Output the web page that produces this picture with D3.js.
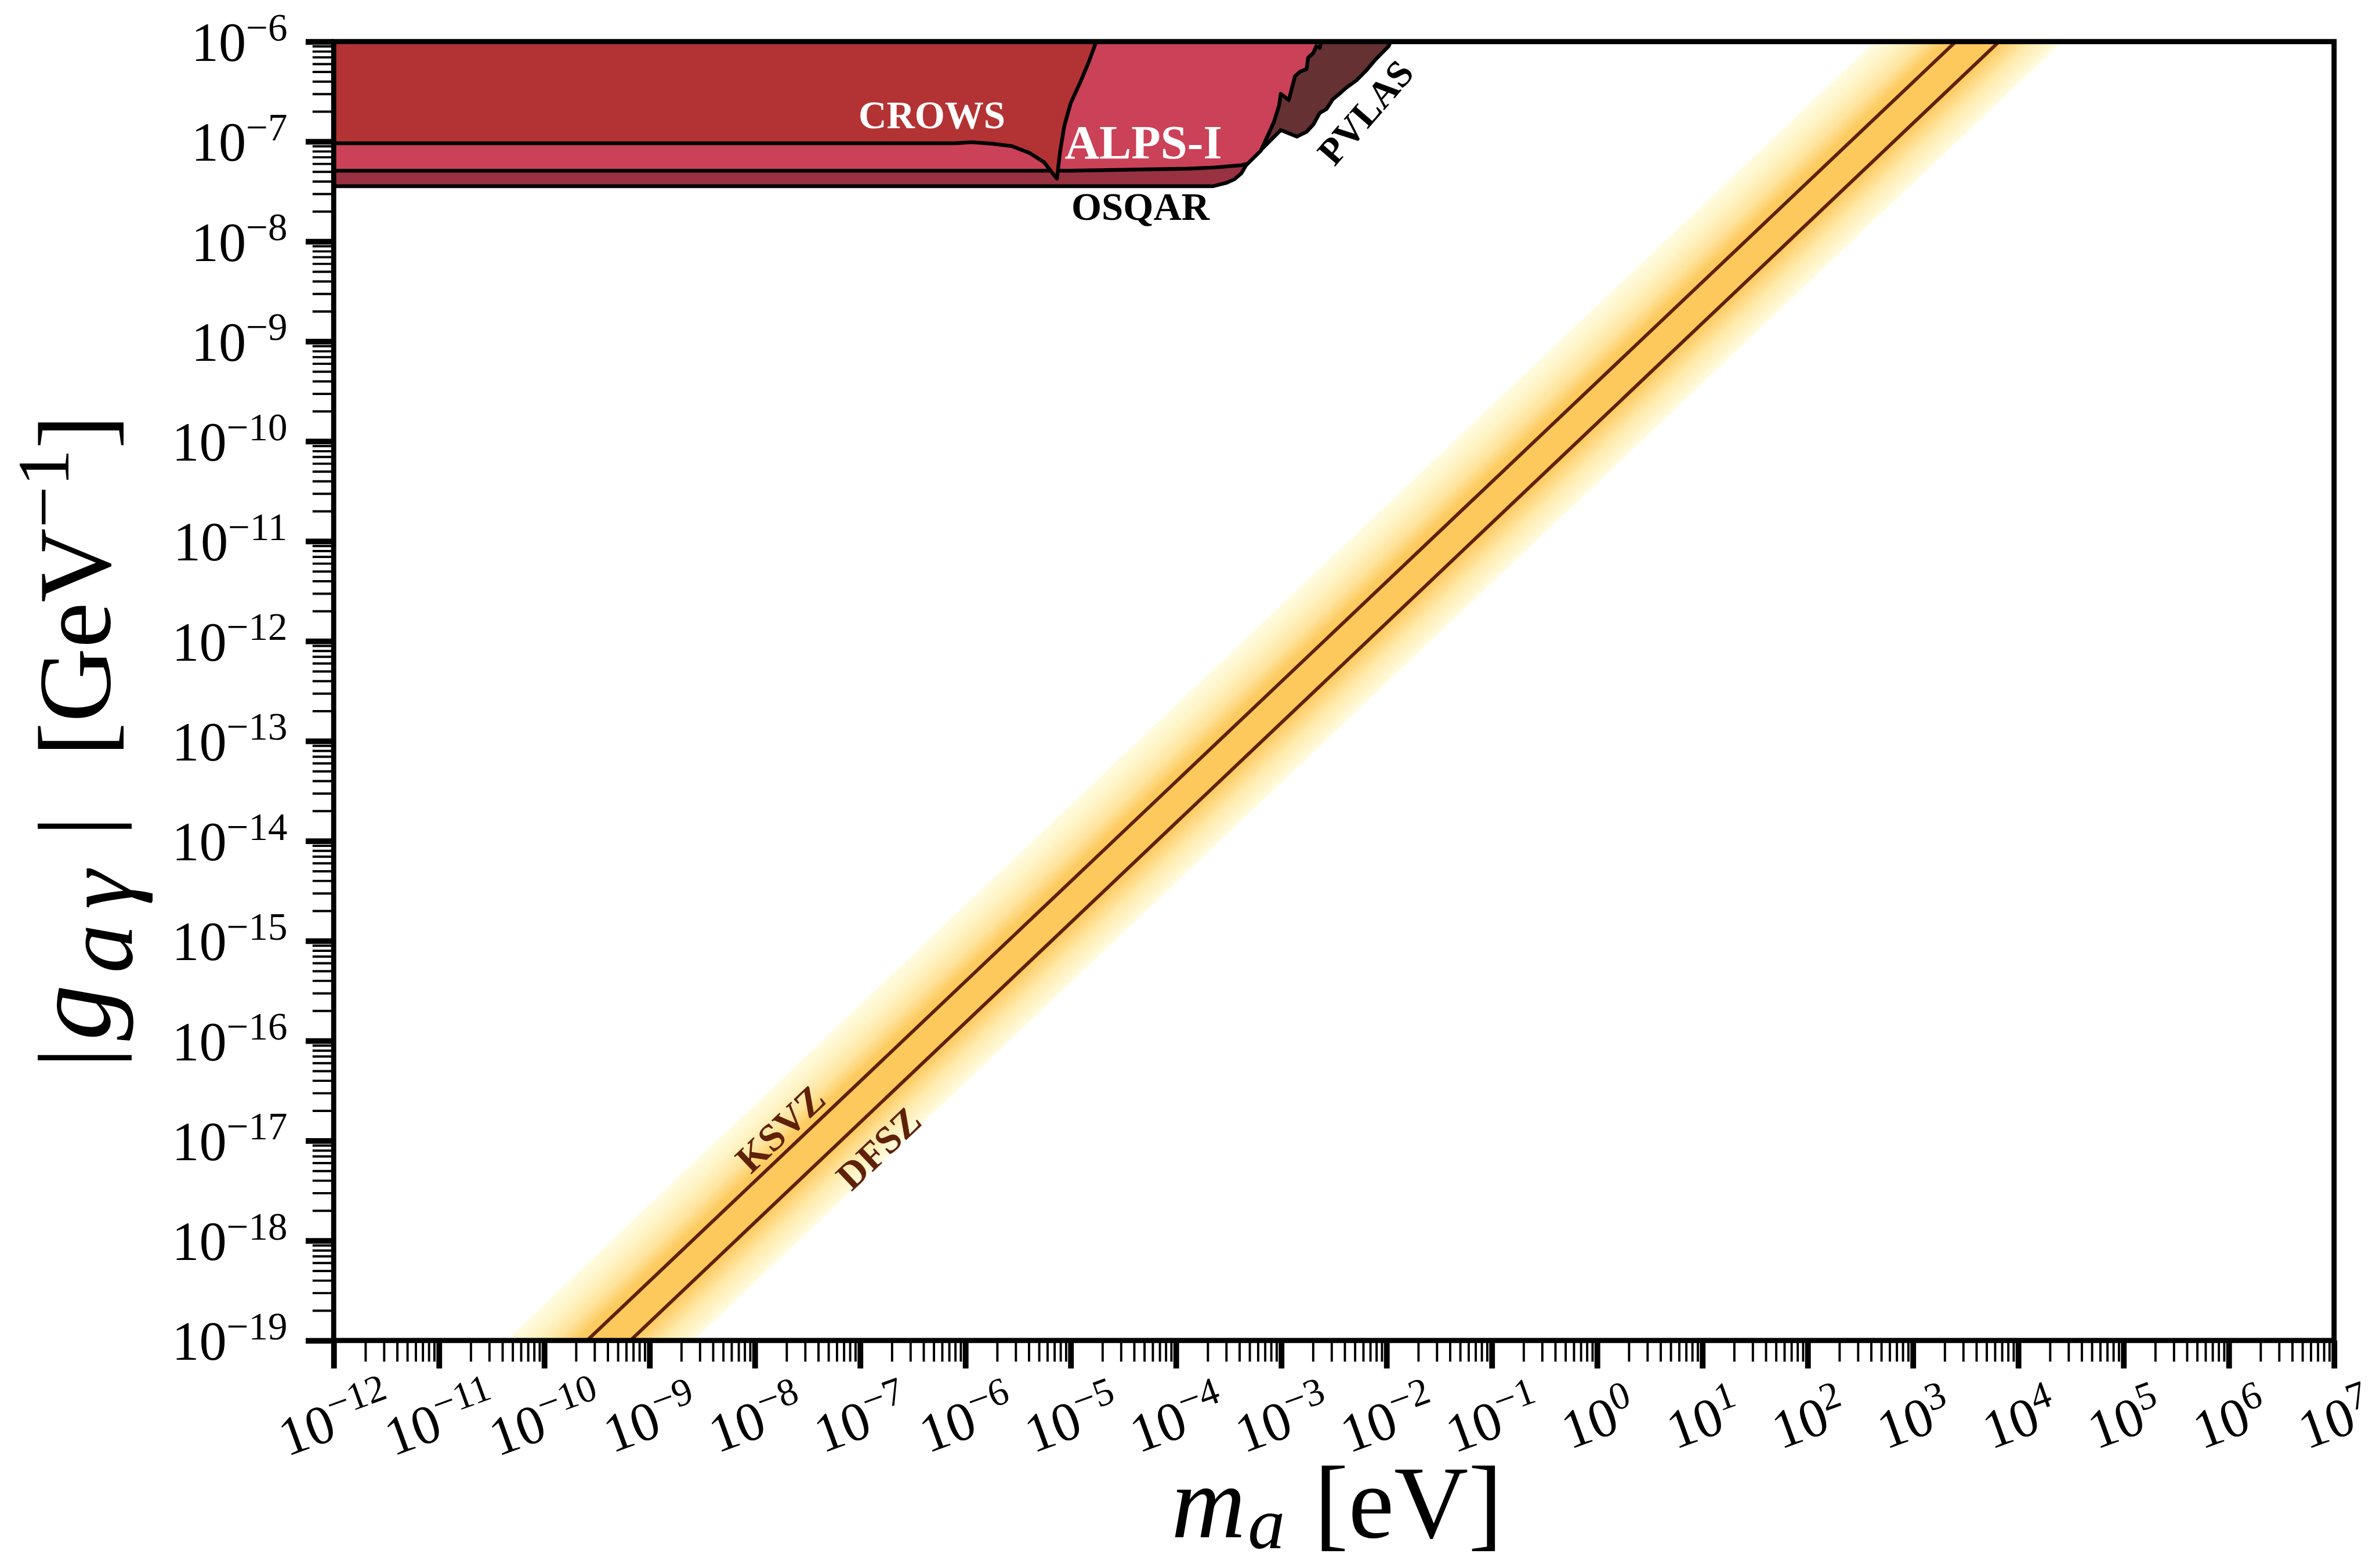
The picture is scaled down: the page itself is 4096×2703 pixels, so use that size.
<!DOCTYPE html>
<html>
<head>
<meta charset="utf-8">
<script src="https://cdn.jsdelivr.net/npm/d3@7"></script>
<style>
  html, body { margin: 0; padding: 0; background: #ffffff; }
  svg { display: block; }
</style>
</head>
<body>
<script>
// Axion-photon coupling |g_aγ| versus axion mass m_a:
// laboratory exclusion regions and the QCD axion model band.

const massDomain = [1e-12, 1e7];            // eV
const couplingDomain = [1e-19, 1e-6];       // GeV^-1
const massTickExponents = d3.range(-12, 8);
const couplingTickExponents = d3.range(-19, -5);

// Exclusion limits, [mass (eV), coupling (GeV^-1)], excluded above the curve
const crowsLimit = [
  [1e-12, 9.6e-8], [7.9e-7, 9.6e-8], [1.15e-6, 9.85e-8], [1.8e-6, 9.5e-8],
  [2.75e-6, 9.0e-8], [4.05e-6, 7.7e-8], [5.6e-6, 6.2e-8], [7.2e-6, 4.4e-8],
  [7.4e-6, 4.25e-8], [7.9e-6, 7.7e-8], [8.7e-6, 1.43e-7], [1.0e-5, 2.42e-7],
  [1.23e-5, 3.9e-7], [1.49e-5, 6.3e-7], [1.75e-5, 1e-6]
];
const alpsLimit = [
  [1e-12, 5.1e-8], [1e-5, 5.1e-8], [1.3e-4, 5.35e-8], [2.35e-4, 5.5e-8],
  [4.2e-4, 5.8e-8], [4.8e-4, 6.0e-8], [6.4e-4, 8.1e-8], [7.6e-4, 1.2e-7],
  [8.5e-4, 1.56e-7], [9.55e-4, 2.3e-7], [9.9e-4, 3.0e-7], [1.18e-3, 2.6e-7],
  [1.35e-3, 4.5e-7], [1.51e-3, 5.0e-7], [1.74e-3, 5.3e-7], [1.80e-3, 6.9e-7],
  [2.02e-3, 7.7e-7], [2.15e-3, 9.0e-7], [2.32e-3, 8.65e-7], [2.4e-3, 1e-6]
];
const osqarLimit = [
  [1e-12, 3.57e-8], [2.26e-4, 3.57e-8], [3.05e-4, 3.87e-8], [3.6e-4, 4.2e-8],
  [4.18e-4, 4.8e-8], [4.6e-4, 5.7e-8], [5.2e-4, 7e-8], [6.3e-4, 1e-7],
  [7.2e-4, 1.5e-7], [8.2e-4, 2.2e-7], [9.3e-4, 4e-7], [1.1e-3, 1e-6]
];
const pvlasLimit = [
  [1e-12, 8.5e-8], [5.0e-4, 8.5e-8], [6.0e-4, 7.6e-8], [6.4e-4, 8.2e-8],
  [9.9e-4, 1.3e-7], [1.41e-3, 1.12e-7], [1.74e-3, 1.25e-7], [2.02e-3, 1.48e-7],
  [2.32e-3, 1.93e-7], [2.69e-3, 2.11e-7], [3.09e-3, 2.65e-7], [3.59e-3, 3.02e-7],
  [4.12e-3, 3.44e-7], [5.16e-3, 4.08e-7], [6.38e-3, 5.1e-7], [7.89e-3, 6.65e-7],
  [1.05e-2, 9.0e-7], [1.09e-2, 1e-6]
];

// QCD axion model lines and band edges (straight in log-log), end points
const ksvzLine = [[1e-12, 3.92e-22], [1e7, 3.92e-3]];
const dfszLine = [[1e-12, 1.52e-22], [1e7, 1.52e-3]];
const bandUpperEdge = [[1e-12, 2.3e-21], [1e7, 2.3e-2]];
const bandLowerEdge = [[1e-12, 3.8e-23], [1e7, 3.8e-4]];

// drawing order: first drawn ends up underneath
const experiments = [
  { name: "PVLAS", data: pvlasLimit, fill: "#653132" },
  { name: "OSQAR", data: osqarLimit, fill: "#983140" },
  { name: "ALPS-I", data: alpsLimit, fill: "#cb4157" },
  { name: "CROWS", data: crowsLimit, fill: "#b33334" }
];

// ---------------------------------------------------------------------------
const W = 4096, H = 2703, S = 0.985;
const FONT = "'Liberation Serif', 'Times New Roman', serif";
const L = 584, R = 4085, T = 72.8, B = 2346;

const svg = d3.select("body").append("svg")
  .attr("width", W).attr("height", H)
  .attr("viewBox", `0 0 ${W} ${H}`);
svg.append("rect").attr("width", W).attr("height", H).attr("fill", "#ffffff");
const root = svg.append("g").attr("transform", `scale(${S})`);

const x = d3.scaleLog().domain(massDomain).range([L, R]);
const y = d3.scaleLog().domain(couplingDomain).range([B, T]);
const line = d3.line().x(d => x(d[0])).y(d => y(d[1]));

const defs = root.append("defs");
defs.append("clipPath").attr("id", "plotClip")
  .append("rect").attr("x", L).attr("y", T).attr("width", R - L).attr("height", B - T);

const plot = root.append("g").attr("clip-path", "url(#plotClip)");

// --- QCD axion band with a gradient across its width
const P = d => [x(d[0]), y(d[1])];
const u0 = P(bandUpperEdge[0]), u1 = P(bandUpperEdge[1]);
const len = Math.hypot(u1[0] - u0[0], u1[1] - u0[1]);
const dir = [(u1[0] - u0[0]) / len, (u1[1] - u0[1]) / len];
let nrm = [-dir[1], dir[0]];
const across = p => (p[0] - u0[0]) * nrm[0] + (p[1] - u0[1]) * nrm[1];
if (across(P(bandLowerEdge[0])) < 0) nrm = [-nrm[0], -nrm[1]];
const width = across(P(bandLowerEdge[0]));
const offK = across(P(ksvzLine[0])) / width;
const offD = across(P(dfszLine[0])) / width;

const grad = defs.append("linearGradient").attr("id", "bandGrad")
  .attr("gradientUnits", "userSpaceOnUse")
  .attr("x1", u0[0]).attr("y1", u0[1])
  .attr("x2", u0[0] + nrm[0] * width).attr("y2", u0[1] + nrm[1] * width);
const stops = [
  [0, "#fffce2"], [0.30 * offK, "#fff4c6"], [0.62 * offK, "#fee39b"],
  [0.86 * offK, "#fdcc62"], [offK, "#fdc95c"], [offD, "#fdc95c"],
  [offD + 0.15 * (1 - offD), "#fed273"], [offD + 0.5 * (1 - offD), "#ffeaa9"],
  [1, "#fffce2"]
];
grad.selectAll("stop").data(stops).join("stop")
  .attr("offset", d => d[0]).attr("stop-color", d => d[1]);

plot.append("path")
  .attr("d", line(bandUpperEdge.concat(bandLowerEdge.slice().reverse())) + "Z")
  .attr("fill", "url(#bandGrad)");

const modelColor = "#5f2108";
[ksvzLine, dfszLine].forEach(d => {
  plot.append("path").attr("d", line(d))
    .attr("fill", "none").attr("stroke", modelColor).attr("stroke-width", 6);
});

// --- exclusion regions
experiments.forEach(e => {
  const first = e.data[0], last = e.data[e.data.length - 1];
  const closed = e.data.concat([
    [last[0], couplingDomain[1] * 10],
    [massDomain[0] / 10, couplingDomain[1] * 10],
    [massDomain[0] / 10, first[1]]
  ]);
  plot.append("path").attr("d", line(closed) + "Z").attr("fill", e.fill);
  plot.append("path").attr("d", line(e.data))
    .attr("fill", "none").attr("stroke", "#000").attr("stroke-width", 6.5)
    .attr("stroke-linejoin", "round");
});

// --- labels inside the plot
function label(txt, cx, cy, size, color, angle) {
  root.append("g").attr("transform", `translate(${cx},${cy}) rotate(${angle})`)
    .append("text").attr("x", 0).attr("y", size * 0.33)
    .attr("text-anchor", "middle").attr("font-family", FONT)
    .attr("font-weight", "bold").attr("font-size", size)
    .attr("fill", color).text(txt);
}
label("CROWS", 1631, 202, 68, "#ffffff", 0);
label("ALPS-I", 2001, 249, 84, "#ffffff", 0);
label("OSQAR", 1996, 362, 68, "#000000", 0);
label("PVLAS", 2390, 197, 66, "#000000", -49);
const lineAngle = Math.atan2(y(ksvzLine[1][1]) - y(ksvzLine[0][1]),
                             x(ksvzLine[1][0]) - x(ksvzLine[0][0])) * 180 / Math.PI;
label("KSVZ", 1366, 1976, 68, modelColor, lineAngle);
label("DFSZ", 1538, 2010, 68, modelColor, lineAngle);

// --- frame
root.append("rect").attr("x", L).attr("y", T).attr("width", R - L).attr("height", B - T)
  .attr("fill", "none").attr("stroke", "#000").attr("stroke-width", 9);

// --- axes (ticks drawn with d3 axes, labels as powers of ten)
const minorMass = [], minorCoupling = [];
massTickExponents.slice(0, -1).forEach(e => d3.range(2, 10).forEach(k => minorMass.push(k * Math.pow(10, e))));
couplingTickExponents.slice(0, -1).forEach(e => d3.range(2, 10).forEach(k => minorCoupling.push(k * Math.pow(10, e))));
const majorMass = massTickExponents.map(e => Math.pow(10, e));
const majorCoupling = couplingTickExponents.map(e => Math.pow(10, e));

function styleAxis(g, w) {
  g.select(".domain").remove();
  g.selectAll(".tick line").attr("stroke", "#000").attr("stroke-width", w);
  g.selectAll(".tick text").remove();
}
root.append("g").attr("transform", `translate(0,${B})`)
  .call(d3.axisBottom(x).tickValues(minorMass).tickSize(37).tickSizeOuter(0).tickFormat(""))
  .call(g => styleAxis(g, 4));
root.append("g").attr("transform", `translate(0,${B})`)
  .call(d3.axisBottom(x).tickValues(majorMass).tickSize(49).tickSizeOuter(0).tickFormat(""))
  .call(g => styleAxis(g, 10));
root.append("g").attr("transform", `translate(${L},0)`)
  .call(d3.axisLeft(y).tickValues(minorCoupling).tickSize(37).tickSizeOuter(0).tickFormat(""))
  .call(g => styleAxis(g, 4));
root.append("g").attr("transform", `translate(${L},0)`)
  .call(d3.axisLeft(y).tickValues(majorCoupling).tickSize(49).tickSizeOuter(0).tickFormat(""))
  .call(g => styleAxis(g, 10));

const TICK_SIZE = 96, SUP_SIZE = 68, SUP_RAISE = 36;
function power(textSel, e) {
  textSel.append("tspan").text("10");
  textSel.append("tspan").attr("font-size", SUP_SIZE).attr("dy", -SUP_RAISE)
    .text(e < 0 ? "\u2212" + (-e) : String(e));
}
couplingTickExponents.forEach(e => {
  root.append("text").attr("x", 503).attr("y", y(Math.pow(10, e)) + 34)
    .attr("text-anchor", "end").attr("font-family", FONT).attr("font-size", TICK_SIZE)
    .call(t => power(t, e));
});
massTickExponents.forEach(e => {
  root.append("g").attr("transform", `translate(${x(Math.pow(10, e))},2477) rotate(-20)`)
    .append("text").attr("x", 0).attr("y", 40)
    .attr("text-anchor", "middle").attr("font-family", FONT).attr("font-size", TICK_SIZE)
    .call(t => power(t, e));
});

// --- axis titles
const TITLE_SIZE = 180, TITLE_SUB = 130;
const xt = root.append("text").attr("x", 2050).attr("y", 2690)
  .attr("font-family", FONT).attr("font-size", TITLE_SIZE);
xt.append("tspan").attr("font-style", "italic").text("m");
xt.append("tspan").attr("font-style", "italic").attr("font-size", TITLE_SUB).attr("dy", 20).attr("dx", 4).text("a");
xt.append("tspan").attr("x", 2300).attr("dy", -20).text("[eV]");

// y title, laid out along the rotated baseline (distance measured upward)
const yt = root.append("g").attr("transform", "translate(192,1869) rotate(-90)")
  .append("text").attr("x", 0).attr("y", 0)
  .attr("font-family", FONT).attr("font-size", TITLE_SIZE);
yt.append("tspan").attr("x", 0).text("|");
yt.append("tspan").attr("x", 48).attr("font-style", "italic").attr("font-size", 196).text("g");
yt.append("tspan").attr("x", 166).attr("dy", 38).attr("font-style", "italic")
  .attr("font-size", 172).attr("letter-spacing", 26).text("a\u03b3");
yt.append("tspan").attr("x", 405).attr("dy", -38).text("|");
yt.append("tspan").attr("x", 545).text("[GeV");
yt.append("tspan").attr("font-size", TITLE_SUB).attr("dy", -72).text("\u22121");
yt.append("tspan").attr("dy", 72).text("]");
</script>
</body>
</html>
